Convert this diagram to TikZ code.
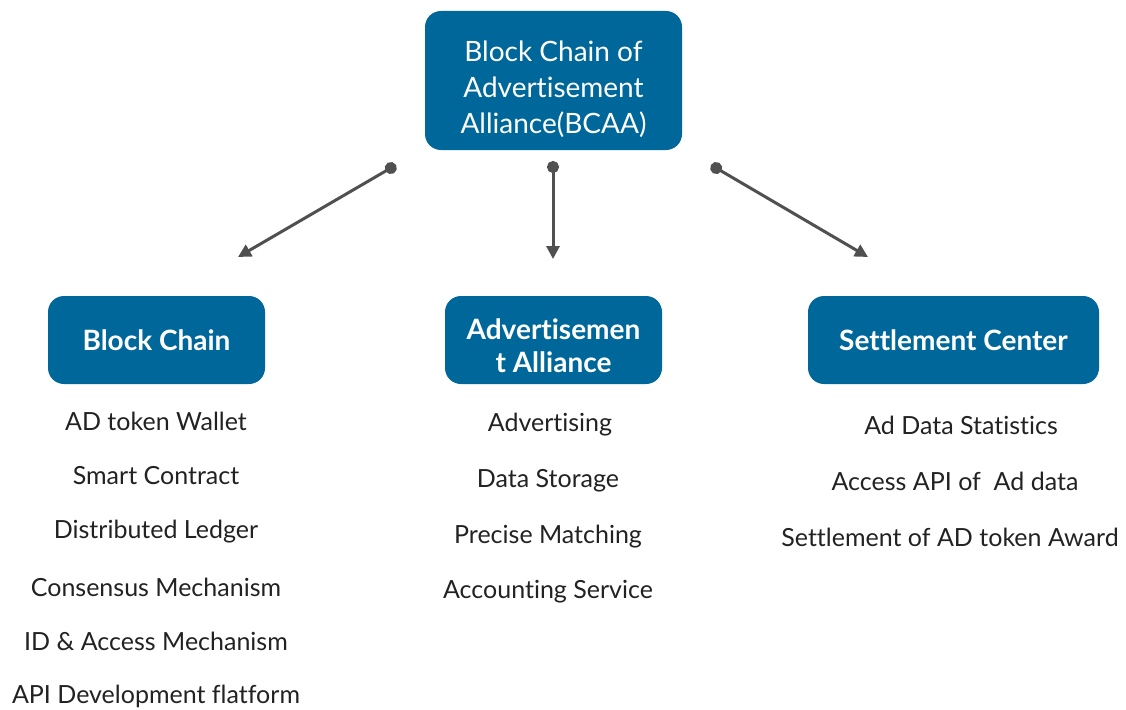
\documentclass[tikz,border=0pt]{standalone}
\usepackage{fontspec}
\setmainfont[Ligatures=NoCommon]{Lato}
\usepackage{xcolor}
\usetikzlibrary{arrows.meta}
\definecolor{boxblue}{RGB}{0,103,155}
\definecolor{arrowgray}{RGB}{80,80,80}
\definecolor{txtgray}{RGB}{34,34,34}
\tikzset{>=stealth}

\begin{document}
\begin{tikzpicture}[x=1pt,y=-1pt,
    bluebox/.style={fill=boxblue,rounded corners=16pt,inner sep=0pt},
    boxtxt/.style={text=white,align=center,inner sep=0pt},
    headtxt/.style={font=\fontsize{28}{33}\selectfont\bfseries},
    item/.style={text=txtgray,font=\fontsize{25}{30}\selectfont,anchor=center},
    link/.style={draw=arrowgray,line width=3pt,{Circle[length=12pt]}-{Triangle[length=13pt,width=13pt]}}]
    \useasboundingbox (0,0) rectangle (1126,709);
    % boxes
    \node[bluebox,minimum width=257pt,minimum height=139pt] (bcaa) at (553.5,80.5) {};
    \node[boxtxt,font=\fontsize{28}{36}\selectfont] (bcaatxt) at ([yshift=-9pt]bcaa.center)
        {Block Chain of\\Advertisement\\Alliance(BCAA)};
    \node[bluebox,minimum width=217pt,minimum height=88pt] (chain) at (156.5,340) {};
    \node[boxtxt,headtxt] (chaintxt) at (chain.center) {Block Chain};
    \node[bluebox,minimum width=217pt,minimum height=88pt] (alliance) at (553.5,340) {};
    \node[boxtxt,headtxt] (alliancetxt) at ([yshift=-6pt]alliance.center) {Advertisemen\\t Alliance};
    \node[bluebox,minimum width=291pt,minimum height=88pt] (settle) at (953.5,340) {};
    \node[boxtxt,headtxt] (settletxt) at (settle.center) {Settlement Center};
    % arrows
    \coordinate (l0) at (396,165);
    \coordinate (l1) at (238,257);
    \coordinate (m0) at (553,161);
    \coordinate (m1) at (553,259);
    \coordinate (r0) at (711,165);
    \coordinate (r1) at (868,257);
    \draw[link] (l0) -- (l1);
    \draw[link] (m0) -- (m1);
    \draw[link] (r0) -- (r1);
    % lists
    \node[item] (c1) at (156,421) {AD token Wallet};
    \node[item] (c2) at (156,476) {Smart Contract};
    \node[item] (c3) at (156,532) {Distributed Ledger};
    \node[item] (c4) at (156,587) {Consensus Mechanism};
    \node[item] (c5) at (156,641) {ID \& Access Mechanism};
    \node[item] (c6) at (156,696) {API Development flatform};
    \node[item] (a1) at (550,425) {Advertising};
    \node[item] (a2) at (548,481) {Data Storage};
    \node[item] (a3) at (548,537) {Precise Matching};
    \node[item] (a4) at (548,592) {Accounting Service};
    \node[item] (s1) at (961,425) {Ad Data Statistics};
    \node[item] (s2) at (955,481) {Access API of\ \ Ad data};
    \node[item] (s3) at (950,537) {Settlement of AD token Award};
\end{tikzpicture}
\end{document}
